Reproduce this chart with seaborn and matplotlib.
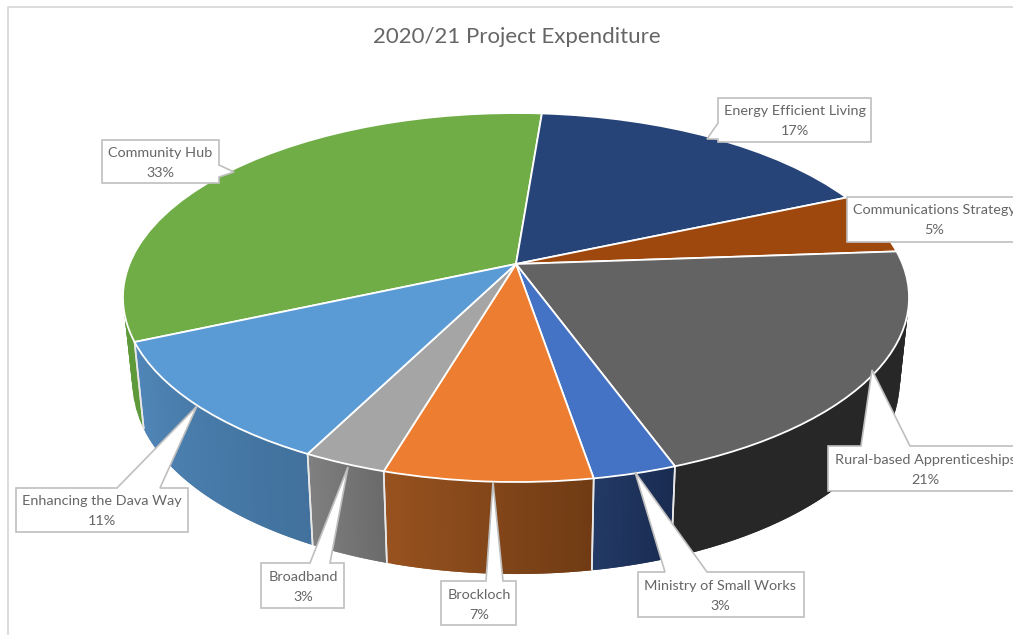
import numpy as np
import matplotlib
matplotlib.use("Agg")
import matplotlib.pyplot as plt
import matplotlib.colors as mcolors
from matplotlib.collections import PolyCollection
from matplotlib.patches import Polygon
from matplotlib.transforms import Transform
import seaborn as sns

sns.set_theme(style="white")
plt.rcParams['font.family'] = ['Lato', 'DejaVu Sans']

# data, slice order is clockwise from Community Hub
names = ["Community Hub", "Energy Efficient Living", "Communications Strategy",
         "Rural-based Apprenticeships", "Ministry of Small Works", "Brockloch",
         "Broadband", "Enhancing the Dava Way"]
shares = [32.9, 17.2, 5.4, 20.6, 2.9, 7.2, 2.9, 10.9]
top_colors = ["#70AD47", "#264478", "#9E480E", "#636363",
              "#4472C4", "#ED7D31", "#A5A5A5", "#5B9BD5"]
wall_left = ["#5F9A3A", "#20396A", "#843C0C", "#272727",
             "#233A66", "#97521F", "#808080", "#5086B8"]
wall_right = ["#5F9A3A", "#20396A", "#843C0C", "#272727",
              "#192B50", "#6F3B14", "#6A6A6A", "#41719C"]

# callout outlines in picture pixels
callouts = [
    [(102, 140), (219, 140), (219, 165), (234, 172), (219, 177), (219, 183), (102, 183)],
    [(718, 98), (871, 98), (871, 142), (718, 142), (718, 139), (707, 139), (718, 123)],
    [(847, 197), (1025, 197), (1025, 242), (847, 242)],
    [(828, 446), (861, 446), (872, 370), (910, 446), (1025, 446), (1025, 491), (828, 491)],
    [(638, 572), (665, 572), (635, 472), (707, 572), (804, 572), (804, 617), (638, 617)],
    [(441, 581), (486, 581), (493, 482), (503, 581), (516, 581), (516, 625), (441, 625)],
    [(261, 563), (310, 563), (348, 467), (330, 563), (344, 563), (344, 608), (261, 608)],
    [(16, 488), (117, 488), (197, 406), (160, 488), (188, 488), (188, 532), (16, 532)],
]
label_pos = [(160, 163), (795, 121), (934, 220), (925, 470),
             (720, 596), (479, 605), (303, 587), (102, 511)]

# perspective of the top face and the bottom face
TOP = dict(cx=516.0, cy=264.0, a=386.5, b=178.4, k=0.1817)
BOTTOM = dict(cx=516.0, cy=348.2, a=377.2, b=184.8, k=0.1817)


def project(xy, cx, cy, a, b, k):
    xy = np.asarray(xy, dtype=float)
    w = 1 + k * xy[..., 1]
    return np.stack([cx + a * xy[..., 0] / w, cy - b * xy[..., 1] / w], axis=-1)


class Tilt(Transform):
    input_dims = 2
    output_dims = 2
    is_separable = False
    has_inverse = False

    def transform_non_affine(self, values):
        return project(values, **TOP)


fig = plt.figure(figsize=(10.13, 6.35), dpi=100, facecolor="white")
ax = fig.add_axes([0, 0, 1, 1])

wedges, _ = ax.pie(shares, colors=sns.color_palette(top_colors), startangle=203.9,
                   counterclock=False, wedgeprops=dict(edgecolor="white", linewidth=1.3))
ax.set_aspect("auto")
ax.set_xlim(0, 1013)
ax.set_ylim(635, 0)

tilt = Tilt()
for w in wedges:
    w.set_transform(tilt + ax.transData)
    w.set_zorder(3)

# side walls, cut into strips along each wedge's arc. each strip runs over the next
# one so no seams show when they get antialiased
for w, c1, c2 in zip(wedges, wall_left, wall_right):
    th = np.radians(np.linspace(w.theta1, w.theta2, 41))
    rim = np.column_stack([np.cos(th), np.sin(th)])
    upper = project(rim, **TOP)
    lower = project(rim, **BOTTOM)
    c1, c2 = np.array(mcolors.to_rgb(c1)), np.array(mcolors.to_rgb(c2))
    # go by screen x, whichever way the arc was walked
    if upper[0, 0] > upper[-1, 0]:
        c1, c2 = c2, c1
    quads, shades = [], []
    for i in range(40):
        j = min(i + 2, 40)
        quads.append([upper[i], upper[j], lower[j], lower[i]])
        shades.append(c1 + (c2 - c1) * (i + 0.5) / 40)
    ax.add_collection(PolyCollection(quads, facecolors=shades, edgecolors="none",
                                     linewidths=0, zorder=1), autolim=False)
    for i in (0, -1):
        if rim[i, 1] < -0.1:
            ax.plot([upper[i, 0], lower[i, 0]], [upper[i, 1], lower[i, 1]],
                    color="#e8e8e8", lw=1.2, zorder=2, solid_capstyle="butt")

# chart frame, cropped on the right and at the bottom
ax.plot([7.5, 7.5, 1013], [635, 7, 7], color="#d9d9d9", lw=1.3, zorder=0)

ax.text(517, 37, "2020/21 Project Expenditure", ha="center", va="center",
        fontsize=16, color="#666666")

for name, share, outline, (tx, ty) in zip(names, shares, callouts, label_pos):
    ax.add_patch(Polygon(outline, closed=True, facecolor="white", edgecolor="#bfbfbf",
                         linewidth=1.2, zorder=5, joinstyle="miter"))
    ax.text(tx, ty, f"{name}\n{share:.0f}%", ha="center", va="center", fontsize=10.4,
            color="#666666", linespacing=1.75, zorder=6, clip_on=True)

plt.savefig("out.png", dpi=100)
